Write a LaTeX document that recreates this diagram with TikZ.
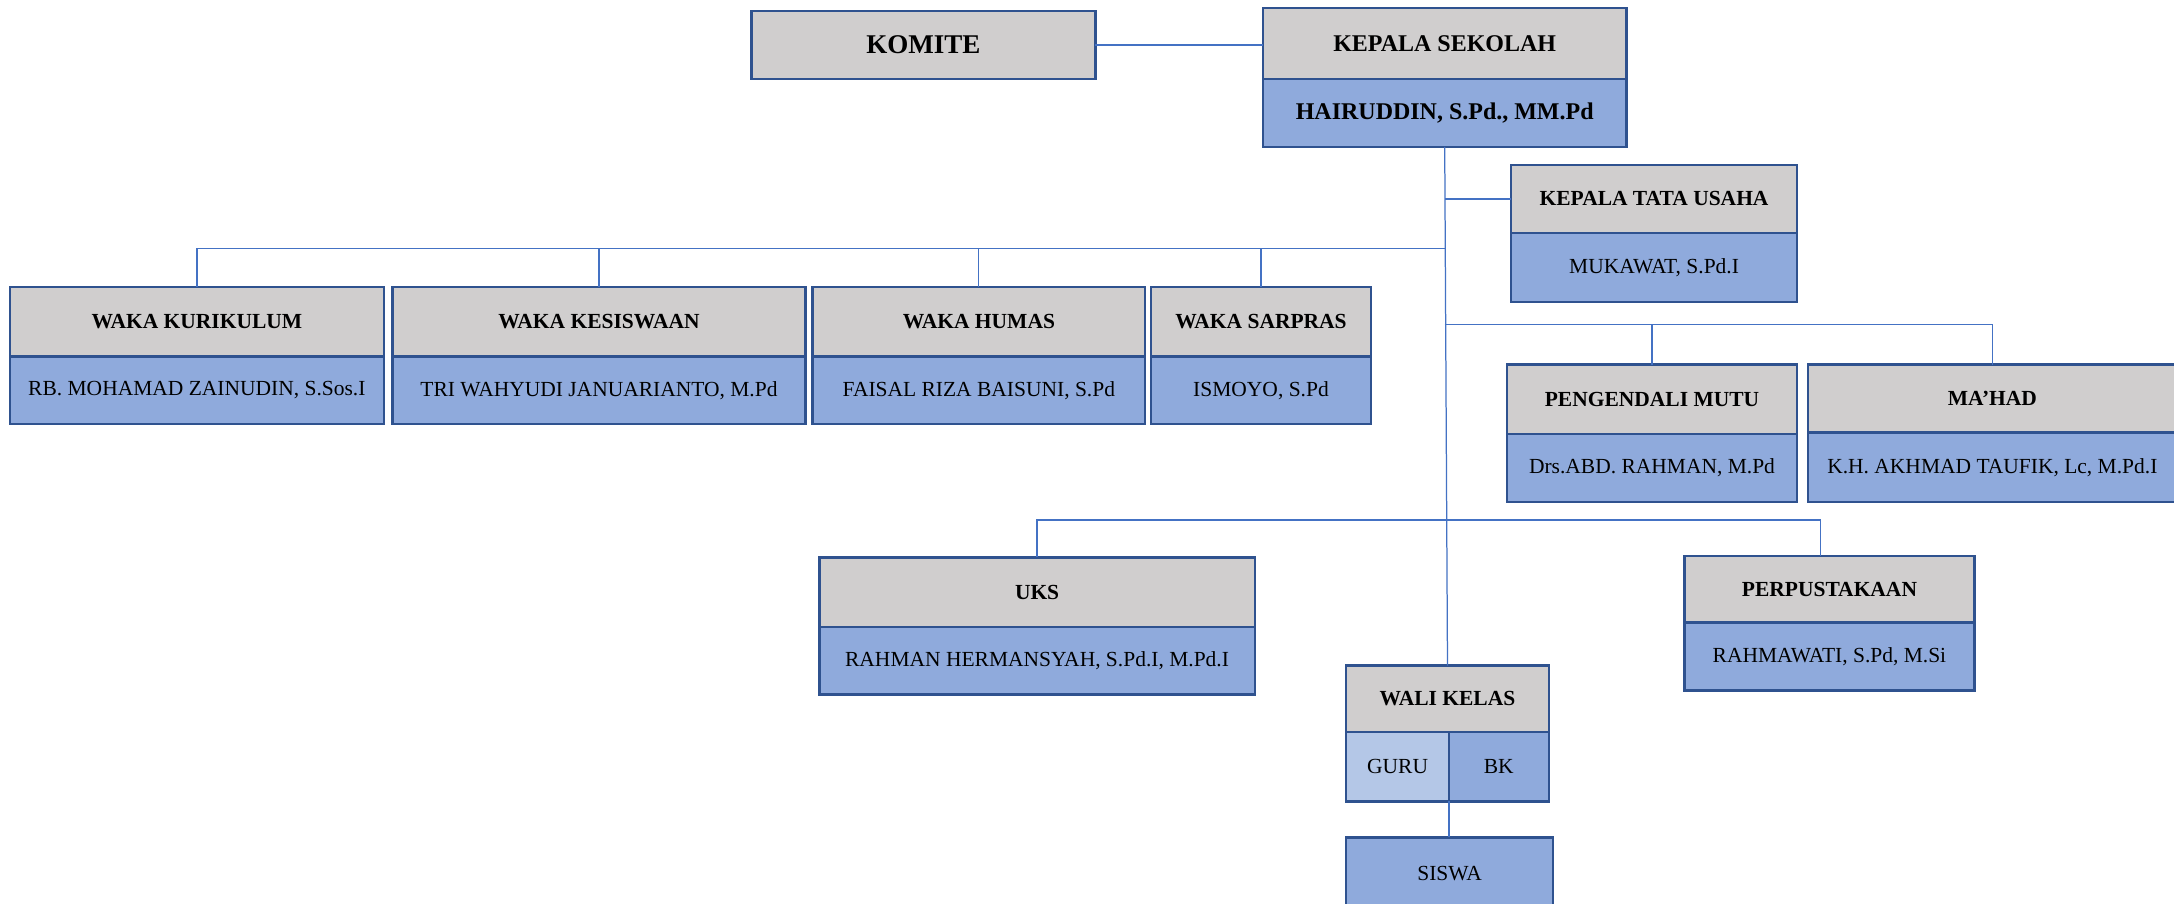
\documentclass[tikz,border=0pt]{standalone}
\usepackage{fontspec}
\setmainfont{Liberation Serif}
\definecolor{grayc}{HTML}{D0CECE}
\definecolor{bluec}{HTML}{8FAADC}
\definecolor{lightc}{HTML}{B4C7E7}
\definecolor{bordc}{HTML}{2F528F}
\definecolor{linec}{HTML}{4472C4}
\newcommand{\orgbox}[8]{%
  \node[hdr, minimum width={#3pt-#2pt}, minimum height={#5pt-#4pt}] (#1h) at ({(#2+#3)/2},{(#4+#5)/2}) {#7};
  \node[nm, minimum width={#3pt-#2pt}, minimum height={#6pt-#5pt}] (#1n) at ({(#2+#3)/2},{(#5+#6)/2}) {#8};}
\begin{document}
\begin{tikzpicture}[x=1pt,y=-1pt,
  box/.style={draw=bordc, line width=1.7pt, inner sep=0pt, outer sep=0pt, text=black, font=\fontsize{15.5}{18}\selectfont},
  hdr/.style={box, fill=grayc, font=\fontsize{15.5}{18}\selectfont\bfseries},
  nm/.style={box, fill=bluec},
  conn/.style={draw=linec, line width=0.9pt}]
\useasboundingbox (0,0) rectangle (1568,652);
\clip (0,0) rectangle (1568,652);
\fill[white] (0,0) rectangle (1568,652);

% top
\node[hdr, minimum width=248pt, minimum height=49pt, font=\fontsize{19.5}{22}\selectfont\bfseries] (komite) at (666,32.5) {KOMITE};
\node[hdr, minimum width=262pt, minimum height=51pt, font=\fontsize{17.3}{20}\selectfont\bfseries] (ksh) at (1042,31.5) {KEPALA SEKOLAH};
\node[nm, minimum width=262pt, minimum height=49pt, font=\fontsize{17.3}{20}\selectfont\bfseries] (ksn) at (1042,81.5) {HAIRUDDIN, S.Pd., MM.Pd};

\orgbox{ktu}{1090}{1296}{119}{168}{218}{KEPALA TATA USAHA}{MUKAWAT, S.Pd.I}

\orgbox{kur}{7}{277}{207}{257}{306}{WAKA KURIKULUM}{RB. MOHAMAD ZAINUDIN, S.Sos.I}
\orgbox{kes}{283}{581}{207}{257}{306}{WAKA KESISWAAN}{TRI WAHYUDI JANUARIANTO, M.Pd}
\orgbox{hum}{586}{826}{207}{257}{306}{WAKA HUMAS}{FAISAL RIZA BAISUNI, S.Pd}
\orgbox{sar}{830}{989}{207}{257}{306}{WAKA SARPRAS}{ISMOYO, S.Pd}

\orgbox{pm}{1087}{1296}{263}{313}{362}{PENGENDALI MUTU}{Drs.ABD. RAHMAN, M.Pd}
\orgbox{mahad}{1304}{1570}{263}{312}{362}{MA’HAD}{K.H. AKHMAD TAUFIK, Lc, M.Pd.I}

\orgbox{uks}{591}{905}{402}{452}{501}{UKS}{RAHMAN HERMANSYAH, S.Pd.I, M.Pd.I}
\orgbox{perp}{1215}{1424}{401}{449}{498}{PERPUSTAKAAN}{RAHMAWATI, S.Pd, M.Si}

\node[hdr, minimum width=146pt, minimum height=48pt] (wali) at (1044,504) {WALI KELAS};
\node[box, fill=lightc, minimum width=74pt, minimum height=50pt] (guru) at (1008,553) {\raisebox{-3pt}{GURU}};
\node[nm, minimum width=72pt, minimum height=50pt] (bk) at (1081,553) {BK};
\node[nm, minimum width=149pt, minimum height=52pt] (siswa) at (1045.5,630) {SISWA};

% connectors
\coordinate (bus1y) at (0,179);
\coordinate (bus2y) at (0,234);
\coordinate (pdrop) at (1313,375);
\draw[conn] (komite.east) -- (komite.east -| ksh.west);
\draw[conn] (ksn.south) -- (wali.north);
\draw[conn, line width=1.3pt] (ktuh.west) -- (ktuh.west -| ksn.south);
\draw[conn] (kurh.north) |- (bus1y -| ksn.south);
\draw[conn] (kesh.north) -- (kesh.north |- bus1y);
\draw[conn] (humh.north) -- (humh.north |- bus1y);
\draw[conn] (sarh.north) -- (sarh.north |- bus1y);
\draw[conn] (bus2y -| ksn.south) -| (mahadh.north);
\draw[conn] (pmh.north) -- (pmh.north |- bus2y);
\draw[conn] (uksh.north) |- (pdrop) -- (pdrop |- perph.north);
\draw[conn] (guru.south east) -- (guru.south east |- siswa.north);
\end{tikzpicture}
\end{document}
